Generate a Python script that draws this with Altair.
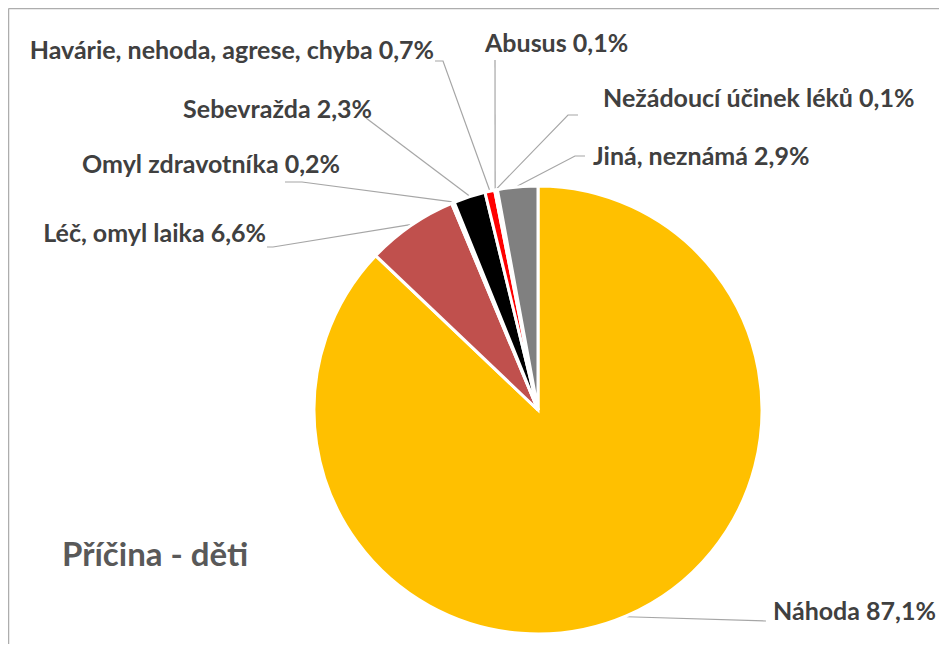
import math
import altair as alt
import pandas as pd

# ---- data ----
categories = ["Náhoda", "Léč. omyl laika", "Omyl zdravotníka", "Sebevražda",
              "Havárie, nehoda, agrese, chyba", "Abusus",
              "Nežádoucí účinek léků", "Jiná, neznámá"]
values = [87.1, 6.6, 0.2, 2.3, 0.7, 0.1, 0.1, 2.9]
colors = ["#FFC000", "#C0504D", "#4F81BD", "#000000", "#FF0000",
          "#9BBB59", "#8064A2", "#808080"]
title_text = "Příčina - děti"

# ---- layout (image pixel coordinates) ----
W, H = 931, 636
OFF = 8
CX, CY, R = 538, 410, 224
# label text anchor: (x, y, align); leader: list of points after the slice edge
label_layout = {
    "Náhoda": (773, 612, "left", [(766, 621)]),
    "Léč. omyl laika": (266, 234, "right", [(273, 247), (267, 247)]),
    "Omyl zdravotníka": (340, 165, "right", [(302, 182), (285, 182)]),
    "Sebevražda": (372, 110, "right", [(366, 118)]),
    "Havárie, nehoda, agrese, chyba": (434, 51, "right", [(443, 61), (435, 61)]),
    "Abusus": (485, 44, "left", [(495, 60)]),
    "Nežádoucí účinek léků": (603, 99, "left", [(568, 115), (578, 115)]),
    "Jiná, neznámá": (593, 157, "left", [(575, 156), (585, 156)]),
}

total = sum(values)
pie_df = pd.DataFrame({"cat": categories, "value": values, "idx": range(len(values))})

# leader lines, starting at each slice's mid-angle on the rim
line_rows = []
label_rows = []
cum = 0.0
for c, v in zip(categories, values):
    mid = (cum + v / 2) / total * 2 * math.pi
    cum += v
    sx = CX + (R + 1) * math.sin(mid)
    sy = CY - (R + 1) * math.cos(mid)
    tx, ty, al, pts = label_layout[c]
    line_rows.append({"cat": c, "o": 0, "x": sx, "y": sy})
    for i, (px, py) in enumerate(pts):
        line_rows.append({"cat": c, "o": i + 1, "x": px, "y": py})
    txt = f"{c} {v:.1f}".replace(".", ",") + "%"
    label_rows.append({"cat": c, "x": tx, "y": ty, "align": al, "text": txt})

lines_df = pd.DataFrame(line_rows)
labels_df = pd.DataFrame(label_rows)

xs = alt.Scale(domain=[OFF, OFF + W], nice=False, zero=False)
ys = alt.Scale(domain=[OFF, OFF + H], nice=False, zero=False, reverse=True)

pie = alt.Chart(pie_df).mark_arc(outerRadius=R, stroke="white", strokeWidth=3).encode(
    theta=alt.Theta("value:Q", stack=True),
    color=alt.Color("cat:N", scale=alt.Scale(domain=categories, range=colors), legend=None),
    order=alt.Order("idx:Q"),
    x=alt.value(CX - OFF),
    y=alt.value(CY - OFF),
)

leaders = alt.Chart(lines_df).mark_line(color="#A6A6A6", strokeWidth=1.2).encode(
    x=alt.X("x:Q", scale=xs, axis=None),
    y=alt.Y("y:Q", scale=ys, axis=None),
    detail="cat:N",
    order="o:Q",
)

FS = 25
lab_left = alt.Chart(labels_df[labels_df["align"] == "left"]).mark_text(
    align="left", baseline="middle", font="Lato", fontWeight="bold", fontSize=FS, color="#404040"
).encode(x=alt.X("x:Q", scale=xs, axis=None), y=alt.Y("y:Q", scale=ys, axis=None), text="text:N")

lab_right = alt.Chart(labels_df[labels_df["align"] == "right"]).mark_text(
    align="right", baseline="middle", font="Lato", fontWeight="bold", fontSize=FS, color="#404040"
).encode(x=alt.X("x:Q", scale=xs, axis=None), y=alt.Y("y:Q", scale=ys, axis=None), text="text:N")

title = alt.Chart(pd.DataFrame({"t": [title_text], "x": [62], "y": [556]})).mark_text(
    align="left", baseline="middle", font="Lato", fontWeight="bold", fontSize=33, color="#595959"
).encode(x=alt.X("x:Q", scale=xs, axis=None), y=alt.Y("y:Q", scale=ys, axis=None), text="t:N")

frame_df = pd.DataFrame({"x": [OFF + 0.5, OFF + 0.5], "y": [OFF + 0.5, OFF + 0.5],
                         "x2": [OFF + W, OFF + 0.5], "y2": [OFF + 0.5, OFF + H]})
frame = alt.Chart(frame_df).mark_rule(color="#ADADAD", strokeWidth=1.5).encode(
    x=alt.X("x:Q", scale=xs, axis=None), x2="x2:Q",
    y=alt.Y("y:Q", scale=ys, axis=None), y2="y2:Q",
)

chart = alt.layer(frame, leaders, pie, lab_left, lab_right, title).properties(
    width=W, height=H, padding=0, autosize=alt.AutoSizeParams(type="none"),
    background="white",
).configure_view(stroke=None)

chart.save("out.html", embed_options={"renderer": "svg", "actions": False})
